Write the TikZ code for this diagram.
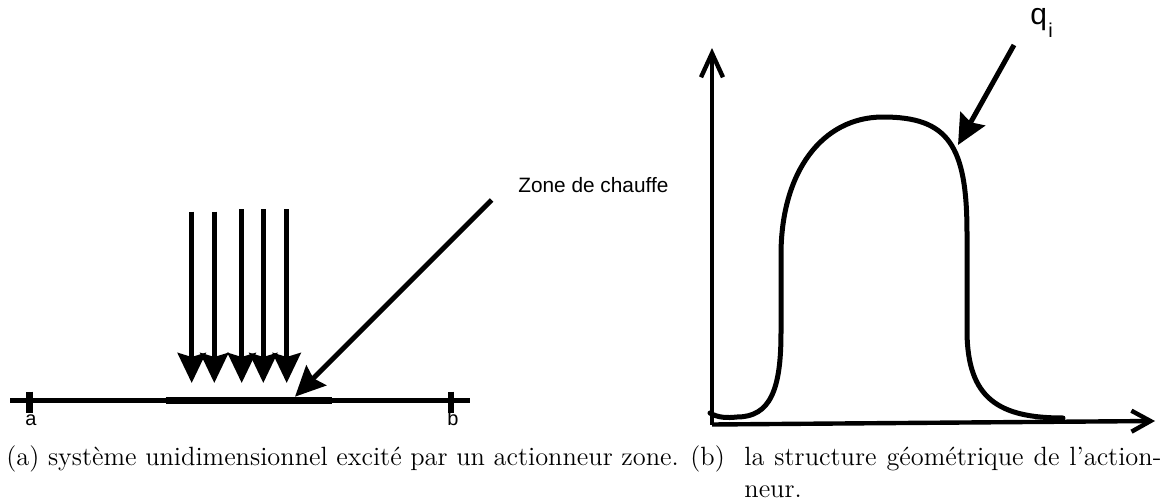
\documentclass[tikz,border=0pt]{standalone}
\usepackage{fontspec}
\newfontfamily\arialfont{Liberation Sans}
\usetikzlibrary{arrows.meta}
\tikzset{
  bigarrow/.style={line width=2.5pt, -{Stealth[length=15pt,width=14pt,inset=2pt]}},
  axisline/.style={line width=2.2pt},
  curveline/.style={line width=2.5pt, line join=round, line cap=round},
  sanslbl/.style={inner sep=0pt, font=\arialfont\fontsize{10}{12}\selectfont},
  captxt/.style={inner sep=0pt, anchor=base west, font=\fontsize{13.2}{16}\selectfont},
}
\begin{document}
\begin{tikzpicture}[x=0.5pt,y=-0.5pt]
\useasboundingbox (0,0) rectangle (1164,503);
% ---------- left figure ----------
\coordinate (L0) at (10,400.5);
\coordinate (L1) at (470,400.5);
\draw[line width=2.7pt] (L0) -- (L1);
\coordinate (Z0) at (165.7,400.5);
\coordinate (Z1) at (331.7,400.5);
\draw[line width=3.8pt] (Z0) -- (Z1);
\coordinate (ta1) at (29.3,391.5);
\coordinate (ta2) at (29.3,413);
\draw[line width=3.2pt] (ta1) -- (ta2);
\coordinate (tb1) at (451,391.5);
\coordinate (tb2) at (451,413);
\draw[line width=3.2pt] (tb1) -- (tb2);
\node[sanslbl] (la) at (31,420) {a};
\node[sanslbl] (lb) at (453,418.5) {b};
\foreach \x/\t [count=\i] in {191.7/211.7, 214.3/211.7, 241.7/209, 263.3/209, 286.7/209}{
  \coordinate (v\i t) at (\x,\t);
  \coordinate (v\i b) at (\x,383);
  \draw[bigarrow] (v\i t) -- (v\i b);
}
\coordinate (dz0) at (491.7,200);
\coordinate (dz1) at (295,396.7);
\draw[bigarrow] (dz0) -- (dz1);
\node[sanslbl, anchor=base west, font=\arialfont\fontsize{10.4}{12}\selectfont] (zone) at (518,192) {Zone de chauffe};
% ---------- right figure ----------
\coordinate (O) at (712,424.5);
\coordinate (Ytop) at (712,48);
\coordinate (Xend) at (1155,421);
\draw[axisline, -{Straight Barb[length=12pt,width=11pt]}] (O) -- (Ytop);
\draw[axisline, -{Straight Barb[length=9.5pt,width=10.5pt]}] (O) -- (Xend);
\draw[curveline] (710,413) .. controls (718,418) and (728,418) .. (737,417)
  .. controls (770,417) and (781,390) .. (781,333)
  -- (781,255)
  .. controls (781,172) and (822,117) .. (883,117)
  .. controls (948,117) and (967,145) .. (967,233)
  -- (967,333)
  .. controls (968,398) and (998,418) .. (1063,418);
\coordinate (qa0) at (1014,45);
\coordinate (qa1) at (958,145);
\draw[bigarrow] (qa0) -- (qa1);
\node[inner sep=0pt, anchor=base west, font=\arialfont\fontsize{15}{17}\selectfont] (q) at (1030,25) {q};
\node[inner sep=0pt, anchor=base west, font=\arialfont\fontsize{10}{12}\selectfont] (qi) at (1048,38) {i};
% ---------- captions ----------
\node[captxt] (capa) at (6,465) {(a) système unidimensionnel excité par un actionneur zone.};
\node[captxt] (capb) at (690,465) {(b)};
\node[captxt] (capb1) at (744,465) {\makebox[208.5pt][s]{la structure géométrique de l'action-}};
\node[captxt] (capb2) at (744,497) {neur.};
\end{tikzpicture}
\end{document}
